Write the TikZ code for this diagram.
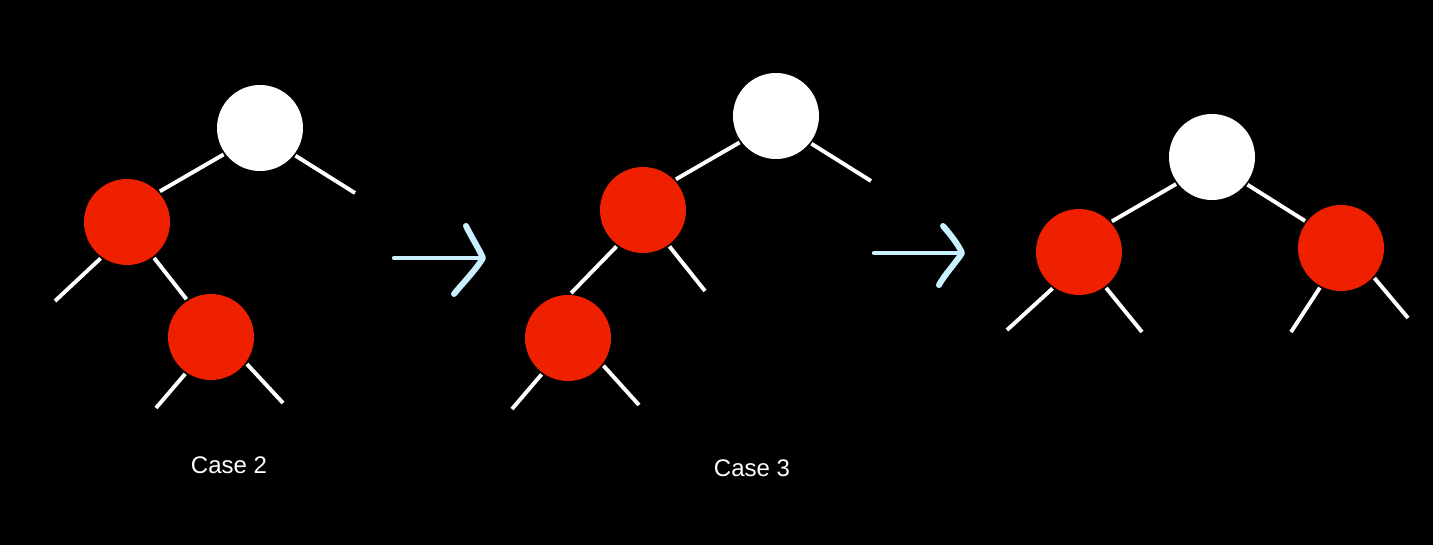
\documentclass[tikz,border=0pt]{standalone}
\usepackage{fontspec}
\setmainfont{Liberation Sans}
\definecolor{nodered}{RGB}{238,32,0}
\definecolor{arrowblue}{RGB}{200,240,255}
\begin{document}
\begin{tikzpicture}[x=1pt,y=-1pt,
  whitenode/.style={circle,fill=white,minimum size=86pt,inner sep=0pt,outer sep=2pt},
  rednode/.style={circle,fill=nodered,minimum size=86pt,inner sep=0pt,outer sep=2pt},
  treeline/.style={white,line width=3.9pt},
  handarrow/.style={arrowblue,line width=4.2pt,line cap=round,line join=round},
  handhead/.style={arrowblue,line width=6pt,line cap=round,line join=round},
  caption/.style={text=white,inner sep=0pt,font=\fontsize{24}{28}\selectfont}]
\fill[black] (0,0) rectangle (1433,545);
\useasboundingbox (0,0) rectangle (1433,545);

% Tree 1
\node[whitenode] (a1) at (260,128) {};
\node[rednode] (a2) at (127,222) {};
\node[rednode] (a3) at (211,337) {};
\coordinate (a1r) at (355,193);
\coordinate (a2l) at (55,301);
\coordinate (a3l) at (156,408);
\coordinate (a3r) at (283,403);
\draw[treeline] (a1.216) -- (a2.43);
\draw[treeline] (a1.322) -- (a1r);
\draw[treeline] (a2.234) -- (a2l);
\draw[treeline] (a2.307) -- (a3.123);
\draw[treeline] (a3.235) -- (a3l);
\draw[treeline] (a3.323) -- (a3r);

% Tree 2
\node[whitenode] (b1) at (776,116) {};
\node[rednode] (b2) at (643,210) {};
\node[rednode] (b3) at (568,338) {};
\coordinate (b1r) at (871,181);
\coordinate (b2r) at (705,291);
\coordinate (b3l) at (512,409);
\coordinate (b3r) at (639,405);
\draw[treeline] (b1.216) -- (b2.43);
\draw[treeline] (b1.322) -- (b1r);
\draw[treeline] (b2.234) -- (b3.86);
\draw[treeline] (b2.306) -- (b2r);
\draw[treeline] (b3.234) -- (b3l);
\draw[treeline] (b3.322) -- (b3r);

% Tree 3
\node[whitenode] (c1) at (1212,157) {};
\node[rednode] (c2) at (1079,252) {};
\node[rednode] (c3) at (1341,248) {};
\coordinate (c2l) at (1007,330);
\coordinate (c2r) at (1142,332);
\coordinate (c3l) at (1291,332);
\coordinate (c3r) at (1408,318);
\draw[treeline] (c1.217) -- (c2.43);
\draw[treeline] (c1.322) -- (c3.143);
\draw[treeline] (c2.234) -- (c2l);
\draw[treeline] (c2.307) -- (c2r);
\draw[treeline] (c3.242) -- (c3l);
\draw[treeline] (c3.318) -- (c3r);

% Arrows
\coordinate (s1) at (394,258);
\coordinate (e1) at (481,258);
\draw[handarrow] (s1) -- (e1);
\draw[handhead] (466,226) .. controls (472,238) and (479,249) .. (483,258)
  .. controls (475,271) and (462,284) .. (454,294);
\coordinate (s2) at (874,253);
\coordinate (e2) at (960,253);
\draw[handarrow] (s2) -- (e2);
\draw[handhead] (943,226) .. controls (950,234) and (958,244) .. (962,253)
  .. controls (955,264) and (945,274) .. (939,285);

% Labels
\node[caption] (t1) at (229,465) {Case 2};
\node[caption] (t2) at (752,468) {Case 3};
\end{tikzpicture}
\end{document}
